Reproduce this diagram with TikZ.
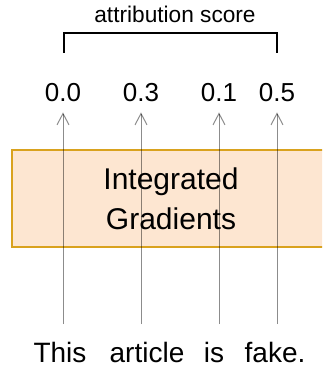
\documentclass[tikz,border=0pt]{standalone}
\usepackage{fontspec}
\setmainfont{Liberation Sans}
\usetikzlibrary{arrows.meta}
\usetikzlibrary{positioning}

\definecolor{igfill}{HTML}{FDE6D1}
\definecolor{igdraw}{HTML}{D9A21E}

\begin{document}
\begin{tikzpicture}[
    x=0.75pt, y=-0.75pt,
    font=\fontsize{19}{22}\selectfont
]
\tikzset{
    scorenode/.style = {inner sep=0pt, font=\fontsize{19.5}{22}\selectfont},
    wordnode/.style = {inner sep=0pt, anchor=base, font=\fontsize{21}{25}\selectfont},
    igbox/.style = {rectangle, draw=igdraw, fill=igfill, line width=1.5pt,
        align=center, minimum width=238.5pt, minimum height=72.75pt,
        font=\fontsize{22.5}{30}\selectfont},
    edgea/.style = {-{Straight Barb[length=8.5pt,width=9pt]}, black,
        draw opacity=0.45, line width=0.75pt, shorten <=13pt, shorten >=7.5pt},
    bracket/.style = {line width=1.5pt, black}
}
\useasboundingbox (0,0) rectangle (322,370);
\clip (0,0) rectangle (322,370);
% label and bracket
\node[anchor=base, inner sep=0pt, font=\fontsize{17}{20}\selectfont] at (175,23) (lbl) {attribution score};
\coordinate (bl) at (64,53);
\coordinate (br) at (277,53);
\draw[bracket] (bl) -- ++(0,-20) -| (br);
% scores
\node[scorenode] at (63,93) (s1) {0.0};
\node[scorenode] at (141,93) (s2) {0.3};
\node[scorenode] at (219,93) (s3) {0.1};
\node[scorenode] at (277,93) (s4) {0.5};
% method
\node[igbox] at (171,198.5) (ig) {Integrated\\Gradients};
% input sentence
\node[wordnode] at (60,362) (w1) {This};
\node[wordnode] at (147,362) (w2) {article};
\node[wordnode] at (214,362) (w3) {is};
\node[wordnode] at (275,362) (w4) {fake.};
\draw[edgea] (s1 |- w1.north) -- (s1.south);
\draw[edgea] (s2 |- w2.north) -- (s2.south);
\draw[edgea] (s3 |- w3.north) -- (s3.south);
\draw[edgea] (s4 |- w4.north) -- (s4.south);
\end{tikzpicture}
\end{document}
